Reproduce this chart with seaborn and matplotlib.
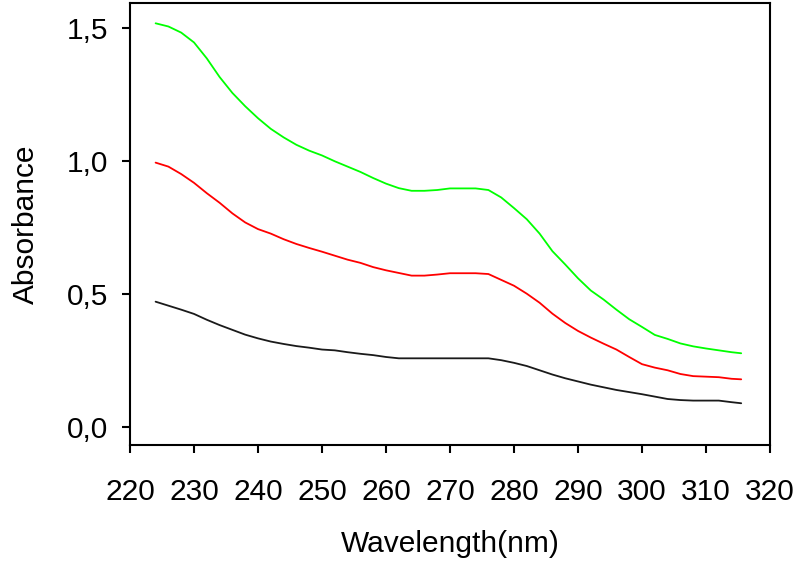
import matplotlib
matplotlib.use("Agg")
import matplotlib.pyplot as plt
import seaborn as sns
import pandas as pd
from matplotlib.ticker import FixedLocator, FuncFormatter

wavelength = [224, 226, 228, 230, 232, 234, 236, 238, 240, 242, 244, 246, 248, 250,
              252, 254, 256, 258, 260, 262, 264, 266, 268, 270, 272, 274, 276, 278,
              280, 282, 284, 286, 288, 290, 292, 294, 296, 298, 300, 302, 304, 306,
              308, 310, 312, 314, 315.5]

green = [1.517, 1.505, 1.482, 1.445, 1.385, 1.315, 1.255, 1.205, 1.16, 1.12, 1.088, 1.06,
         1.038, 1.02, 0.998, 0.978, 0.958, 0.935, 0.914, 0.897, 0.887, 0.887, 0.89,
         0.896, 0.896, 0.896, 0.89, 0.862, 0.822, 0.78, 0.726, 0.66, 0.61, 0.558,
         0.512, 0.478, 0.44, 0.404, 0.375, 0.345, 0.33, 0.313, 0.302, 0.294, 0.287,
         0.28, 0.276]

red = [0.993, 0.978, 0.95, 0.917, 0.878, 0.842, 0.802, 0.768, 0.743, 0.726, 0.705,
       0.687, 0.672, 0.658, 0.643, 0.628, 0.616, 0.60, 0.588, 0.578, 0.568, 0.568,
       0.572, 0.577, 0.577, 0.577, 0.574, 0.552, 0.53, 0.50, 0.466, 0.425, 0.39,
       0.36, 0.335, 0.312, 0.29, 0.262, 0.235, 0.222, 0.212, 0.198, 0.19, 0.188,
       0.186, 0.18, 0.178]

black = [0.47, 0.455, 0.44, 0.424, 0.402, 0.382, 0.364, 0.346, 0.332, 0.32, 0.311,
         0.303, 0.297, 0.29, 0.287, 0.28, 0.274, 0.269, 0.262, 0.257, 0.257, 0.257,
         0.257, 0.257, 0.257, 0.257, 0.257, 0.25, 0.24, 0.228, 0.212, 0.196, 0.182,
         0.17, 0.158, 0.148, 0.138, 0.13, 0.122, 0.113, 0.104, 0.10, 0.098, 0.098,
         0.098, 0.092, 0.088]

x_ticks = [220, 230, 240, 250, 260, 270, 280, 290, 300, 310, 320]
y_ticks = [0.0, 0.5, 1.0, 1.5]

series = {"green": green, "red": red, "black": black}
palette = {"green": "#00ff00", "red": "#ff0000", "black": "#1a1a1a"}

df = pd.concat([pd.DataFrame({"Wavelength": wavelength, "Absorbance": v, "s": k})
                for k, v in series.items()], ignore_index=True)

sns.set_style("ticks")
plt.rcParams["font.family"] = ["Liberation Sans", "DejaVu Sans"]
plt.rcParams["text.color"] = "black"
plt.rcParams["axes.labelcolor"] = "black"
plt.rcParams["xtick.color"] = "black"
plt.rcParams["ytick.color"] = "black"

fig = plt.figure(figsize=(8, 5.64), dpi=100)
ax = fig.add_axes([0.1625, 0.211, 0.80, 0.784])

sns.lineplot(data=df, x="Wavelength", y="Absorbance", hue="s", palette=palette,
             linewidth=1.3, legend=False, ax=ax, sort=False)

ax.set_xlim(220, 320)
ax.set_ylim(-0.069, 1.594)
ax.xaxis.set_major_locator(FixedLocator(x_ticks))
ax.yaxis.set_major_locator(FixedLocator(y_ticks))
ax.yaxis.set_major_formatter(FuncFormatter(lambda v, p: f"{v:.1f}".replace(".", ",")))

for sp in ax.spines.values():
    sp.set_visible(True)
    sp.set_linewidth(1.5)
    sp.set_color("black")

ax.tick_params(axis="x", direction="out", length=6, width=1.5, labelsize=21.5, pad=18,
               top=False, colors="black")
ax.tick_params(axis="y", direction="out", length=6, width=1.5, labelsize=21.5, pad=10,
               right=False, colors="black")

ax.set_xlabel("Wavelength(nm)", fontsize=21.5, labelpad=17, color="black")
ax.set_ylabel("Absorbance", fontsize=21.5, labelpad=19, color="black")

fig.savefig("out.png", dpi=100, facecolor="white")
